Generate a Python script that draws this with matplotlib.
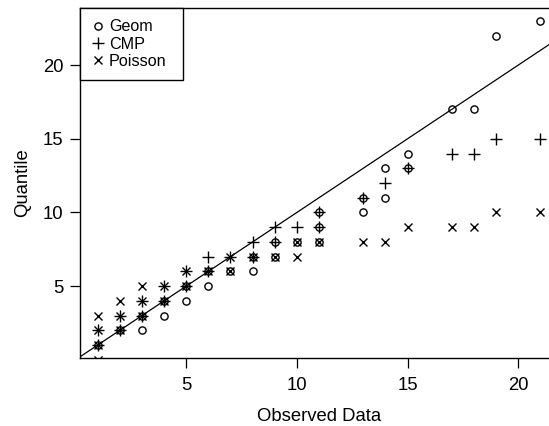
import matplotlib
matplotlib.use("Agg")
import matplotlib.pyplot as plt

plt.rcParams['font.family'] = ['Liberation Sans', 'DejaVu Sans']

# Observed value / theoretical quantile pairs (distinct visible points)
geom_x = [1, 2, 3, 3, 4, 4, 5, 5, 6, 6, 7, 8, 8, 9, 9, 10, 11, 11, 11, 13, 13, 14, 14, 15, 15, 17, 18, 19, 21]
geom_y = [1, 2, 2, 3, 3, 4, 4, 5, 5, 6, 6, 6, 7, 7, 8, 8, 8, 9, 10, 10, 11, 11, 13, 13, 14, 17, 17, 22, 23]

cmp_x = [1, 1, 2, 2, 3, 3, 4, 4, 5, 5, 6, 6, 7, 8, 8, 9, 9, 10, 11, 11, 13, 14, 15, 17, 18, 19, 21]
cmp_y = [1, 2, 2, 3, 3, 4, 4, 5, 5, 6, 6, 7, 7, 7, 8, 8, 9, 9, 9, 10, 11, 12, 13, 14, 14, 15, 15]

pois_x = [1, 1, 1, 1, 2, 2, 2, 3, 3, 3, 4, 4, 5, 5, 6, 7, 7, 8, 9, 10, 10, 11, 13, 14, 15, 17, 18, 19, 21]
pois_y = [0, 1, 2, 3, 2, 3, 4, 3, 4, 5, 4, 5, 5, 6, 6, 6, 7, 7, 7, 7, 8, 8, 8, 8, 9, 9, 9, 10, 10]

x_ticks = [5, 10, 15, 20]
y_ticks = [5, 10, 15, 20]
labels = ["Geom", "CMP", "Poisson"]

W, H = 549, 426
fig = plt.figure(figsize=(W / 100, H / 100), dpi=100)
ax_w, ax_h = 558 - 80, 350
ax = fig.add_axes([80 / W, (H - 358) / H, ax_w / W, ax_h / H])

ax.plot(geom_x, geom_y, linestyle='none', marker='o', ms=5.2, mfc='none',
        mec='black', mew=1.0, label=labels[0])
ax.plot(cmp_x, cmp_y, linestyle='none', marker='+', ms=8, mec='black',
        mew=1.0, label=labels[1])
ax.plot(pois_x, pois_y, linestyle='none', marker='x', ms=6, mec='black',
        mew=1.0, label=labels[2])

ax.axline((0, 0), slope=1, color='black', lw=0.9)

ax.set_xlim(0.2, 21.8)
ax.set_ylim(0.12, 23.88)
ax.set_xticks(x_ticks)
ax.set_yticks(y_ticks)
ax.tick_params(direction='out', length=7, width=0.9, labelsize=13.3,
               colors='black')
ax.tick_params(axis='x', pad=7)
ax.tick_params(axis='y', pad=5)
for s in ax.spines.values():
    s.set_linewidth(1.0)
    s.set_color('black')

ax.set_xlabel("Observed Data", fontsize=13.3, labelpad=10)
ax.set_ylabel("Quantile", fontsize=13.3, labelpad=8)

leg_w = (183 - 80) / ax_w
leg = ax.legend(loc='upper left', bbox_to_anchor=(0, 0, leg_w, 1),
                mode='expand', borderaxespad=0, fancybox=False,
                edgecolor='black', framealpha=1, fontsize=11.6,
                handlelength=0.8, handletextpad=0.3, labelspacing=0.15,
                borderpad=0.7)
leg.get_frame().set_linewidth(1.0)

fig.savefig("out.png", dpi=100)
